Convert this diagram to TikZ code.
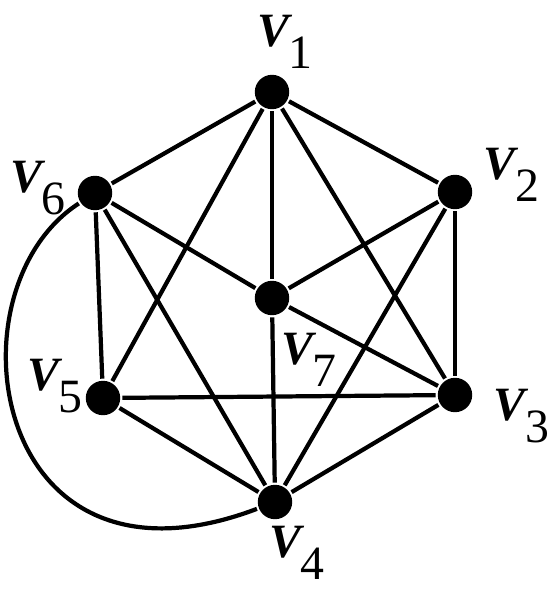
\documentclass[tikz,border=0pt]{standalone}
\usepackage{fontspec}
\newfontfamily\lblfont{Liberation Serif}
\newcommand{\vname}[1]{{\bfseries\itshape V}\raisebox{-16pt}{#1}}
\begin{document}
\begin{tikzpicture}[x=0.025cm, y=-0.025cm, line width=3pt,
    vertex/.style={circle, fill=black, inner sep=0pt, minimum size=0.86cm},
    every label/.style={font=\lblfont\fontsize{34}{38}\selectfont, inner sep=0pt}]
        \useasboundingbox (0,0) rectangle (548,590);
        % Vertices
        \node (v1) at (272,92) [vertex, label={[shift={(13,-50)}]center:{\vname{1}}}] {};
        \node (v2) at (455,192) [vertex, label={[shift={(56,-17)}]center:{\vname{2}}}] {};
        \node (v3) at (455,395) [vertex, label={[shift={(66,21)}]center:{\vname{3}}}] {};
        \node (v4) at (275,502) [vertex, label={[shift={(22,51)}]center:{\vname{4}}}] {};
        \node (v5) at (103,398) [vertex, label={[shift={(-48,-12)}]center:{\vname{5}}}] {};
        \node (v6) at (95,193) [vertex, label={[shift={(-57,-5)}]center:{\vname{6}}}] {};
        \node (v7) at (272,298) [vertex, label={[shift={(37,62)}]center:{\vname{7}}}] {};

        % Edges from V1
        \draw (v1) -- (v2);
        \draw (v1) -- (v3);
        \draw (v1) -- (v5);
        \draw (v1) -- (v6);
        \draw (v1) -- (v7);

        % Edges from V2
        \draw (v2) -- (v3);
        \draw (v2) -- (v4);
        \draw (v2) -- (v7);

        % Edges through V7
        \draw (v6) -- (v7);
        \draw (v7) -- (v3);
        \draw (v7) -- (v4);

        % Outer edges
        \draw (v6) -- (v5);
        \draw (v6) -- (v4);
        \draw (v5) -- (v3);
        \draw (v5) -- (v4);
        \draw (v3) -- (v4);

        % Curved edge
        \draw (v6) .. controls (-55,290) and (-10,610) .. (v4);
      \end{tikzpicture}
\end{document}
